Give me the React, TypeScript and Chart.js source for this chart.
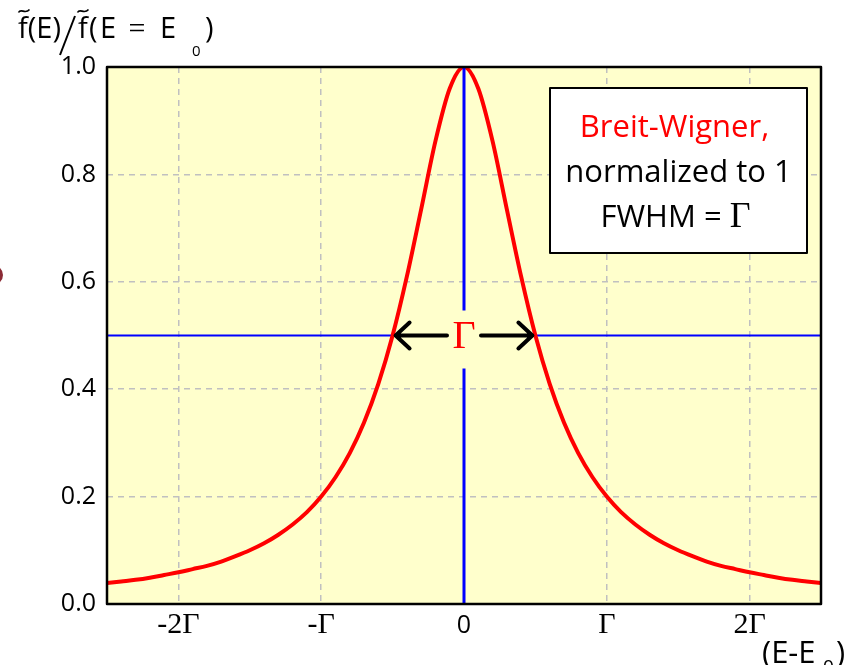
import React, { useEffect, useRef } from "react";
import { Chart, registerables } from "chart.js";

Chart.register(...registerables);

// Energy offset (E - E0) in units of Γ
const xValues = [
  -2.5, -2.4, -2.3, -2.2, -2.1, -2.0, -1.9, -1.8, -1.7, -1.6, -1.5, -1.4, -1.3,
  -1.2, -1.1, -1.0, -0.9, -0.8, -0.7, -0.6, -0.5, -0.4, -0.3, -0.2, -0.1, 0.0,
  0.1, 0.2, 0.3, 0.4, 0.5, 0.6, 0.7, 0.8, 0.9, 1.0, 1.1, 1.2, 1.3, 1.4, 1.5,
  1.6, 1.7, 1.8, 1.9, 2.0, 2.1, 2.2, 2.3, 2.4, 2.5,
];
// Normalized Breit-Wigner value
const yValues = [
  0.039, 0.042, 0.045, 0.049, 0.054, 0.059, 0.065, 0.071, 0.079, 0.089, 0.1,
  0.113, 0.129, 0.148, 0.171, 0.2, 0.236, 0.281, 0.338, 0.41, 0.5, 0.61, 0.735,
  0.862, 0.96, 1.0, 0.96, 0.862, 0.735, 0.61, 0.5, 0.41, 0.338, 0.281, 0.236,
  0.2, 0.171, 0.148, 0.129, 0.113, 0.1, 0.089, 0.079, 0.071, 0.065, 0.059,
  0.054, 0.049, 0.045, 0.042, 0.039,
];

const xTickValues = [-2, -1, 0, 1, 2];
const xTickLabels = ["-2Γ", "-Γ", "0", "Γ", "2Γ"];
const xRange = [-2.5, 2.5];
const yRange = [0, 1];
const halfMax = 0.5;
const peakX = 0;
const fwhmEdges = [-0.5, 0.5];
const boxLines = ["Breit-Wigner,", "normalized to 1", "FWHM = Γ"];

const SANS = "'Open Sans', 'Noto Sans', sans-serif";
const SERIF = "'Liberation Serif', 'DejaVu Serif', serif";

function drawMixed(
  ctx: CanvasRenderingContext2D,
  text: string,
  x: number,
  y: number,
  sansSize: number,
  serifSize: number,
  align: "left" | "center"
) {
  const parts: { t: string; serif: boolean }[] = [];
  for (const ch of text) {
    const serif = ch === "Γ";
    const last = parts[parts.length - 1];
    if (last && last.serif === serif) last.t += ch;
    else parts.push({ t: ch, serif });
  }
  const widths = parts.map((p) => {
    ctx.font = p.serif ? `${serifSize}px ${SERIF}` : `${sansSize}px ${SANS}`;
    return ctx.measureText(p.t).width;
  });
  const total = widths.reduce((a, b) => a + b, 0);
  let cx = align === "center" ? x - total / 2 : x;
  ctx.textAlign = "left";
  parts.forEach((p, i) => {
    ctx.font = p.serif ? `${serifSize}px ${SERIF}` : `${sansSize}px ${SANS}`;
    ctx.fillText(p.t, cx, y);
    cx += widths[i];
  });
}

function drawTilde(ctx: CanvasRenderingContext2D, cx: number, cy: number) {
  ctx.save();
  ctx.beginPath();
  ctx.moveTo(cx - 5.5, cy + 1.5);
  ctx.bezierCurveTo(cx - 3, cy - 3.5, cx + 1, cy + 4, cx + 5.5, cy - 1.5);
  ctx.lineWidth = 1.6;
  ctx.strokeStyle = "#000";
  ctx.stroke();
  ctx.restore();
}

const decorPlugin = {
  id: "decor",
  beforeDraw(chart: any) {
    const { ctx, chartArea: a } = chart;
    ctx.save();
    ctx.fillStyle = "#FFFFCC";
    ctx.fillRect(a.left, a.top, a.right - a.left, a.bottom - a.top);
    ctx.restore();
  },
  afterDatasetsDraw(chart: any) {
    const { ctx, chartArea: a } = chart;
    const xs = chart.scales.x;
    const ys = chart.scales.y;
    const yHalf = ys.getPixelForValue(halfMax);
    const xMid = xs.getPixelForValue(peakX);
    const xL = xs.getPixelForValue(fwhmEdges[0]);
    const xR = xs.getPixelForValue(fwhmEdges[1]);

    ctx.save();
    // gap behind the Γ label
    ctx.fillStyle = "#FFFFCC";
    ctx.fillRect(xMid - 17, yHalf - 25, 34, 58);

    // arrows
    ctx.strokeStyle = "#000";
    ctx.lineWidth = 4;
    ctx.lineCap = "round";
    ctx.lineJoin = "round";
    ctx.beginPath();
    ctx.moveTo(xL + 3, yHalf);
    ctx.lineTo(xMid - 17, yHalf);
    ctx.moveTo(xL + 17, yHalf - 13);
    ctx.lineTo(xL + 3, yHalf);
    ctx.lineTo(xL + 17, yHalf + 13);
    ctx.moveTo(xR - 3, yHalf);
    ctx.lineTo(xMid + 17, yHalf);
    ctx.moveTo(xR - 17, yHalf - 13);
    ctx.lineTo(xR - 3, yHalf);
    ctx.lineTo(xR - 17, yHalf + 13);
    ctx.stroke();

    // red Γ
    ctx.fillStyle = "#FF0000";
    ctx.font = `40px ${SERIF}`;
    ctx.textAlign = "center";
    ctx.textBaseline = "alphabetic";
    ctx.fillText("Γ", xMid, yHalf + 12);

    // annotation box
    const bx = 550,
      by = 88,
      bw = 257,
      bh = 165;
    ctx.fillStyle = "#FFFFFF";
    ctx.fillRect(bx, by, bw, bh);
    ctx.strokeStyle = "#000";
    ctx.lineWidth = 2;
    ctx.strokeRect(bx, by, bw, bh);
    const cx = bx + bw / 2;
    ctx.fillStyle = "#FF0000";
    drawMixed(ctx, boxLines[0], cx - 4, 137, 31, 34, "center");
    ctx.fillStyle = "#000";
    drawMixed(ctx, boxLines[1], cx, 182, 31, 34, "center");
    drawMixed(ctx, boxLines[2], cx - 3, 227, 31, 36, "center");

    // plot frame
    ctx.strokeStyle = "#000";
    ctx.lineWidth = 2.5;
    ctx.strokeRect(a.left, a.top, a.right - a.left, a.bottom - a.top);
    ctx.restore();
  },
  afterDraw(chart: any) {
    const { ctx, chartArea: a } = chart;
    const xs = chart.scales.x;
    ctx.save();
    ctx.fillStyle = "#000";
    ctx.textBaseline = "alphabetic";

    // x tick labels: Γ multiples in serif, zero in sans
    xTickValues.forEach((v, i) => {
      const px = xs.getPixelForValue(v);
      const label = xTickLabels[i];
      ctx.textAlign = "center";
      ctx.font = label.includes("Γ") ? `30px ${SERIF}` : `25px ${SANS}`;
      ctx.fillText(label, px, a.bottom + 29);
    });

    // x axis label (E-E0)
    ctx.textAlign = "left";
    ctx.font = `31px ${SANS}`;
    ctx.fillText("(E-E", 762, 663);
    ctx.font = `19px ${SANS}`;
    ctx.fillText("0", 823, 673);
    ctx.font = `31px ${SANS}`;
    ctx.fillText(")", 836, 663);

    // y axis title f~(E)/f~(E = E0)
    ctx.font = `29px ${SANS}`;
    ctx.fillText("f(E)", 18, 38);
    drawTilde(ctx, 24, 11);
    ctx.beginPath();
    ctx.moveTo(75, 16);
    ctx.lineTo(60, 55);
    ctx.lineWidth = 2;
    ctx.strokeStyle = "#000";
    ctx.stroke();
    ctx.fillText("f", 78, 38);
    drawTilde(ctx, 83, 11);
    ctx.fillText("(", 89, 38);
    ctx.fillText("E", 100, 38);
    ctx.font = `30px ${SERIF}`;
    ctx.textAlign = "center";
    ctx.fillText("=", 137, 38);
    ctx.textAlign = "left";
    ctx.font = `29px ${SANS}`;
    ctx.fillText("E", 160, 38);
    ctx.font = `15px ${SANS}`;
    ctx.fillText("0", 192, 56);
    ctx.font = `29px ${SANS}`;
    ctx.fillText(")", 205, 38);

    // partial dark red bullet on the left edge
    ctx.beginPath();
    ctx.ellipse(-7, 275, 10, 10, 0, 0, Math.PI * 2);
    ctx.fillStyle = "#8B2A35";
    ctx.fill();
    ctx.restore();
  },
};

export default function App() {
  const canvasRef = useRef<HTMLCanvasElement | null>(null);

  useEffect(() => {
    if (!canvasRef.current) return;
    const curve = xValues.map((x, i) => ({ x, y: yValues[i] }));
    const chart = new Chart(canvasRef.current, {
      type: "line",
      data: {
        datasets: [
          {
            label: "vertical",
            data: [
              { x: peakX, y: yRange[0] },
              { x: peakX, y: yRange[1] },
            ],
            borderColor: "#0000FF",
            borderWidth: 3,
            pointRadius: 0,
            order: 0,
          },
          {
            label: "half maximum",
            data: [
              { x: xRange[0], y: halfMax },
              { x: xRange[1], y: halfMax },
            ],
            borderColor: "#0000FF",
            borderWidth: 2,
            pointRadius: 0,
            order: 2,
          },
          {
            label: "Breit-Wigner",
            data: curve,
            borderColor: "#FF0000",
            borderWidth: 4,
            pointRadius: 0,
            cubicInterpolationMode: "monotone",
            order: 1,
          },
        ],
      },
      options: {
        responsive: false,
        animation: false,
        events: [],
        layout: { padding: { top: 67, right: 25, left: 0, bottom: 0 } },
        plugins: {
          legend: { display: false },
          tooltip: { enabled: false },
        },
        scales: {
          x: {
            type: "linear",
            min: xRange[0],
            max: xRange[1],
            afterBuildTicks: (s: any) => {
              s.ticks = xTickValues.map((v) => ({ value: v }));
            },
            afterFit: (s: any) => {
              s.height = 61;
            },
            ticks: { display: false },
            grid: { color: "#C0C0C0", lineWidth: 1.5, drawTicks: false },
            border: { display: false, dash: [6, 5] },
          },
          y: {
            type: "linear",
            min: yRange[0],
            max: yRange[1],
            afterFit: (s: any) => {
              s.width = 107;
            },
            ticks: {
              stepSize: 0.2,
              padding: 11,
              color: "#000",
              font: { family: SANS, size: 25 },
              callback: (v: any) => Number(v).toFixed(1),
            },
            grid: { color: "#C0C0C0", lineWidth: 1.5, drawTicks: false },
            border: { display: false, dash: [6, 5] },
          },
        },
      },
      plugins: [decorPlugin],
    });
    return () => chart.destroy();
  }, []);

  return (
    <div style={{ position: "absolute", left: 0, top: 0, width: 846, height: 665, background: "#fff" }}>
      <canvas ref={canvasRef} width={846} height={665} style={{ display: "block" }} />
    </div>
  );
}
